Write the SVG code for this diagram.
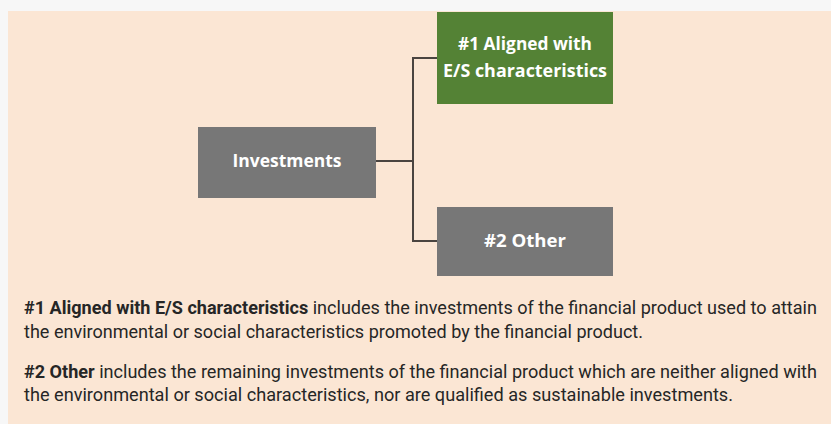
<svg xmlns="http://www.w3.org/2000/svg" width="831" height="424" viewBox="0 0 831 424">
<style>
.box{stroke:none}
.lbl{font-family:"Open Sans","Liberation Sans",sans-serif;font-weight:bold;font-size:17px;fill:#ffffff;text-anchor:middle}
.body{font-family:Roboto,"Liberation Sans",sans-serif;font-size:17.5px;fill:#262626}
.b{font-weight:bold}
.con{fill:none;stroke:#4a4440;stroke-width:2}
</style>
<rect x="0" y="0" width="831" height="424" fill="#f7f7f7"/>
<rect x="8" y="11" width="823" height="413" fill="#fbe6d4"/>
<g id="connectors">
<path class="con" d="M376,161 H413 M437,58 H413 V241 H437"/>
</g>
<g id="node-aligned">
<rect class="box" x="437" y="12" width="176" height="92" fill="#548235"/>
<text class="lbl" x="525" y="50" textLength="134" lengthAdjust="spacingAndGlyphs">#1 Aligned with</text>
<text class="lbl" x="525" y="77" textLength="164" lengthAdjust="spacingAndGlyphs">E/S characteristics</text>
</g>
<g id="node-investments">
<rect class="box" x="198" y="127" width="178" height="71" fill="#777777"/>
<text class="lbl" x="287" y="167" textLength="109" lengthAdjust="spacingAndGlyphs">Investments</text>
</g>
<g id="node-other">
<rect class="box" x="437" y="207" width="176" height="69" fill="#777777"/>
<text class="lbl" x="525" y="247" textLength="82" lengthAdjust="spacingAndGlyphs">#2 Other</text>
</g>
<g id="legend">
<text class="body" x="24" y="314" textLength="793" lengthAdjust="spacingAndGlyphs"><tspan class="b">#1 Aligned with E/S characteristics</tspan> includes the investments of the financial product used to attain</text>
<text class="body" x="24" y="338" textLength="619" lengthAdjust="spacingAndGlyphs">the environmental or social characteristics promoted by the financial product.</text>
<text class="body" x="24" y="378" textLength="793" lengthAdjust="spacingAndGlyphs"><tspan class="b">#2 Other</tspan> includes the remaining investments of the financial product which are neither aligned with</text>
<text class="body" x="24" y="401" textLength="709" lengthAdjust="spacingAndGlyphs">the environmental or social characteristics, nor are qualified as sustainable investments.</text>
</g>
</svg>
